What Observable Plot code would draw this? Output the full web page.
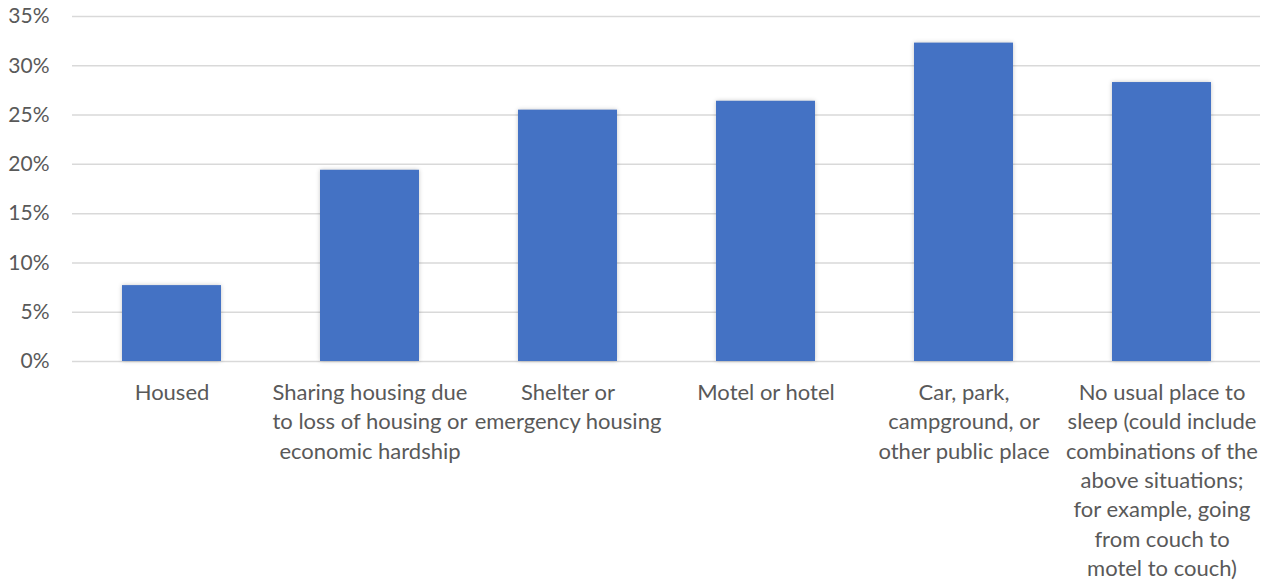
<!DOCTYPE html>
<html>
<head>
<meta charset="utf-8">
<script src="https://cdn.jsdelivr.net/npm/d3@7"></script>
<script src="https://cdn.jsdelivr.net/npm/@observablehq/plot@0.6"></script>
<style>
  html, body { margin: 0; padding: 0; background: #fff; }
  #chart svg { display: block; }
  .bars rect { filter: drop-shadow(0 0 2px rgba(0,0,0,0.22)); }
</style>
</head>
<body>
<div id="chart"></div>
<script>
const categories = [
  "Housed",
  "Sharing housing due\nto loss of housing or\neconomic hardship",
  "Shelter or\nemergency housing",
  "Motel or hotel",
  "Car, park,\ncampground, or\nother public place",
  "No usual place to\nsleep (could include\ncombinations of the\nabove situations;\nfor example, going\nfrom couch to\nmotel to couch)"
];
const values = [7.7, 19.4, 25.5, 26.4, 32.3, 28.3];
const yTicks = [0, 5, 10, 15, 20, 25, 30, 35];

const data = categories.map((c, i) => ({category: c, value: values[i]}));

const font = "Lato, 'Open Sans', sans-serif";
const chart = Plot.plot({
  width: 1270,
  height: 582,
  marginLeft: 72,
  marginRight: 10,
  marginTop: 16,
  marginBottom: 221,
  style: {fontFamily: font, fontSize: "20px", color: "#595959", background: "#fff"},
  x: {domain: categories, paddingInner: 0.5, paddingOuter: 0.25, label: null},
  y: {domain: [0, 35], label: null},
  marks: [
    Plot.gridY(yTicks, {stroke: "#d9d9d9", strokeOpacity: 1, strokeWidth: 1.5}),
    Plot.barY(data, {x: "category", y: "value", fill: "#4472C4", className: "bars"}),
    Plot.axisY(yTicks, {tickSize: 0, tickPadding: 23, tickFormat: d => d + "%", fontSize: 21, fill: "#595959", label: null}),
    Plot.axisX({tickSize: 0, tickPadding: 17.5, lineHeight: 1.336, fontSize: 22, fill: "#595959", label: null})
  ]
});
document.getElementById("chart").appendChild(chart);
</script>
</body>
</html>
